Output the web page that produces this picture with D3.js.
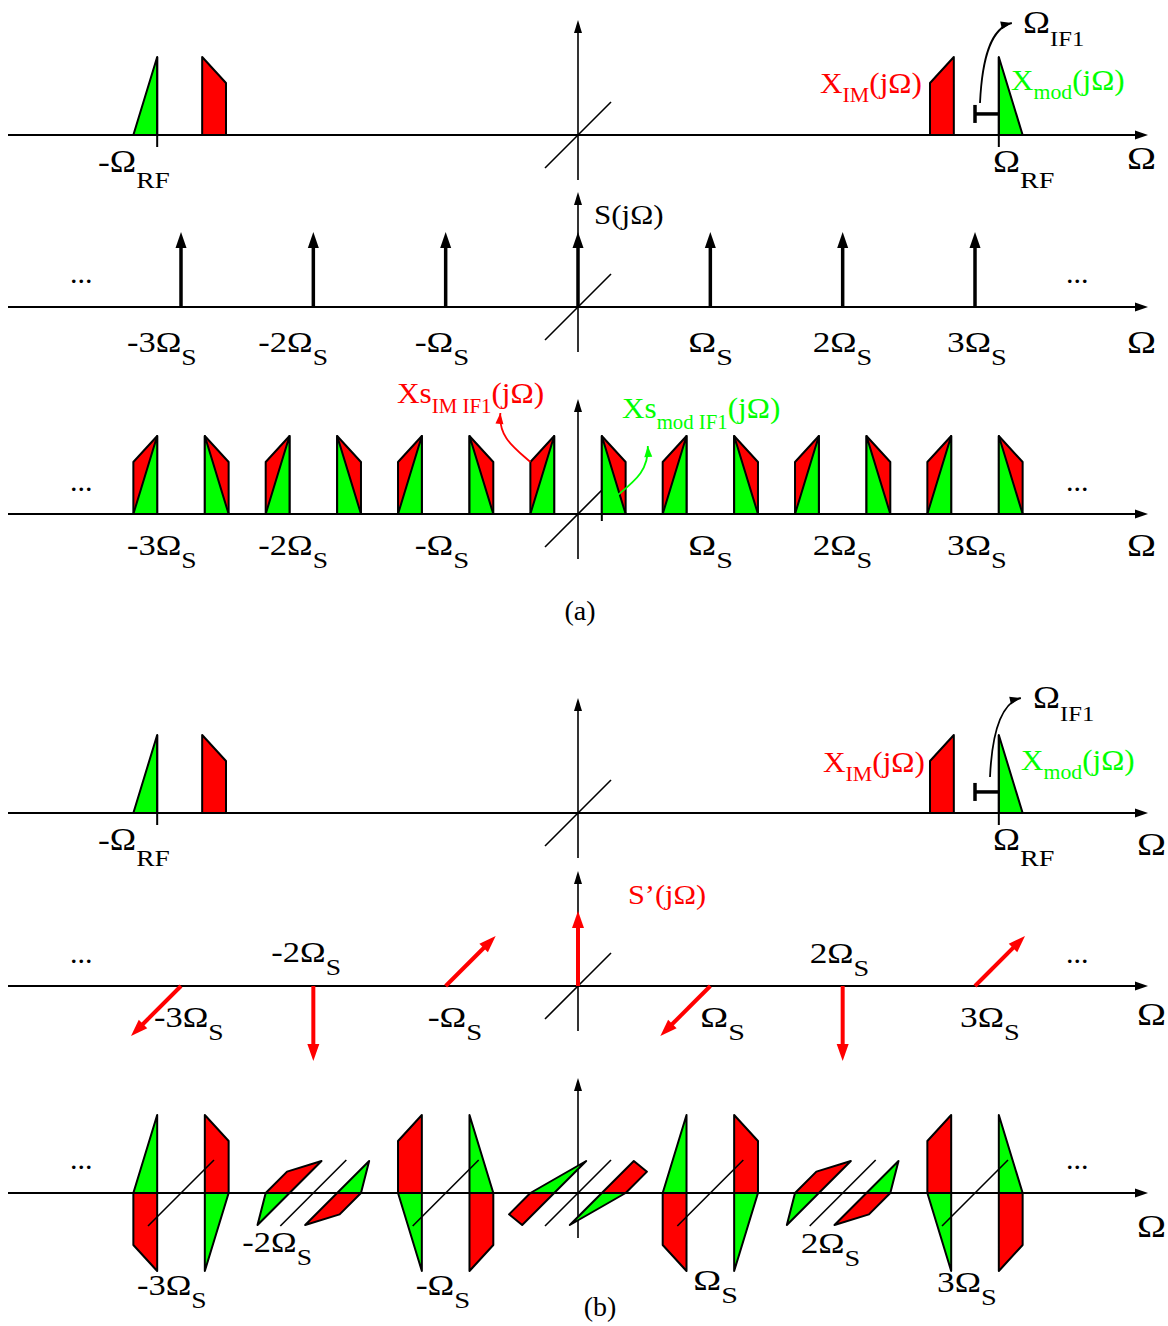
<!DOCTYPE html>
<html>
<head>
<meta charset="utf-8">
<title>Bandpass sampling spectra</title>
<script src="https://cdn.jsdelivr.net/npm/d3@7"></script>
<style>
  body { margin: 0; background: #fff; }
  text { font-family: "Liberation Serif", "Times New Roman", serif; }
</style>
</head>
<body>
<script>
// ---- data (frequencies in units of Ωs) ----
const harmonics = [-3, -2, -1, 0, 1, 2, 3];
const harmonicText = ["-3Ω", "-2Ω", "-Ω", "", "Ω", "2Ω", "3Ω"];
const omegaRF = 3.18;
const bandWidth = 0.18;
const imBandEdges = [-0.52, -0.34];      // image band, relative to Ω_RF
const modProfile = [1, 0];               // |X_mod| at low / high band edge
const imProfile = [0.667, 1];            // |X_IM| at low / high band edge
const bracketLevel = 0.27;
const impulseA = [1, 1, 1, 1, 1, 1, 1];  // S(jΩ)
const impulseBRe = [0, -1, 0, 1, 0, -1, 0];   // S'(jΩ)
const impulseBIm = [-1, 0, 1, 0, -1, 0, 1];
const imageARe = [1, 1, 1, 1, 1, 1, 1];  // phase of aliased bands, (a)
const imageAIm = [0, 0, 0, 0, 0, 0, 0];
const imageBRe = [1, 0, -1, 0, 1, 0, -1]; // phase of aliased bands, (b)
const imageBIm = [0, -1, 0, 1, 0, -1, 0];

const RED = "#ff0000", GREEN = "#00ff00";
const omegaIF = omegaRF - 3;

const svg = d3.select("body").append("svg").attr("width", 1168).attr("height", 1326);

const x = d3.scaleLinear().domain([-3, 3]).range([181, 975]);
const amp = d3.scaleLinear().domain([0, 1]).range([0, 78]);
const depth = d3.scaleLinear().domain([0, 1]).range([0, 32]);   // imaginary axis, drawn at 45deg
const impLen = d3.scaleLinear().domain([0, 1]).range([0, 75]);
const impDepth = d3.scaleLinear().domain([0, 1]).range([0, 50]);

const rows = { a1: 135, a2: 307, a3: 514, b1: 813, b2: 986, b3: 1193 };

function head(g, tx, ty, ang, len, wid, col) {
  const a = ang * Math.PI / 180, c = Math.cos(a), s = Math.sin(a);
  const bx = tx - len * c, by = ty - len * s;
  const px = -s * wid / 2, py = c * wid / 2;
  g.append("path")
    .attr("d", `M${tx},${ty}L${bx + px},${by + py}L${bx - px},${by - py}Z`)
    .attr("fill", col);
}

function arrow(g, x1, y1, x2, y2, col, sw, len, wid) {
  const a = Math.atan2(y2 - y1, x2 - x1);
  g.append("line")
    .attr("x1", x1).attr("y1", y1)
    .attr("x2", x2 - Math.cos(a) * len * 0.6).attr("y2", y2 - Math.sin(a) * len * 0.6)
    .attr("stroke", col).attr("stroke-width", sw);
  head(g, x2, y2, a * 180 / Math.PI, len, wid, col);
}

function curvedArrow(g, p, col) {
  const path = d3.path();
  path.moveTo(p[0][0], p[0][1]);
  path.bezierCurveTo(p[1][0], p[1][1], p[2][0], p[2][1], p[3][0], p[3][1]);
  g.append("path").attr("d", path.toString())
    .attr("fill", "none").attr("stroke", col).attr("stroke-width", 1.8);
  const ang = Math.atan2(p[3][1] - p[2][1], p[3][0] - p[2][0]) * 180 / Math.PI;
  head(g, p[3][0], p[3][1], ang, 11, 8, col);
}

function label(g, px, py, segs, o = {}) {
  const size = o.size || 30, subSize = o.subSize || 24, subDy = o.subDy || 13;
  const t = g.append("text").attr("x", px).attr("y", py)
    .attr("font-size", size).attr("fill", o.color || "#000")
    .attr("text-anchor", o.anchor || "start")
    .style("white-space", "pre");
  let cur = 0;
  segs.forEach(sg => {
    const isSub = typeof sg !== "string";
    const target = isSub ? subDy : 0;
    t.append("tspan").attr("dy", target - cur)
      .attr("font-size", isSub ? subSize : size)
      .text(isSub ? sg.sub : sg);
    cur = target;
  });
  // the original's Ω glyph is wider than the Times one
  const n = (t.text().match(/Ω/g) || []).length;
  const extra = o.omegaExtra === undefined ? 9 : o.omegaExtra;
  if (n && extra && (o.anchor || "start") === "start") {
    const L = t.node().getComputedTextLength();
    t.attr("textLength", L + extra * n).attr("lengthAdjust", "spacingAndGlyphs");
  }
}

function axes(b, omegaX, omegaDy) {
  const g = svg.append("g");
  g.append("line").attr("x1", 8).attr("y1", b).attr("x2", 1140).attr("y2", b)
    .attr("stroke", "#000").attr("stroke-width", 2);
  head(g, 1148, b, 0, 13, 9, "#000");
  g.append("line").attr("x1", x(0)).attr("y1", b + 45).attr("x2", x(0)).attr("y2", b - 106)
    .attr("stroke", "#000").attr("stroke-width", 1.6);
  head(g, x(0), b - 115, -90, 13, 8, "#000");
  g.append("line").attr("x1", x(0) - 33).attr("y1", b + 33).attr("x2", x(0) + 33).attr("y2", b - 33)
    .attr("stroke", "#000").attr("stroke-width", 1.6);
  label(g, omegaX, b + omegaDy, ["Ω"], { size: 31, omegaExtra: 6 });
  return g;
}

function band(g, lo, hi, prof, re, im, b, col) {
  const pts = [[lo, 0], [lo, prof[0]], [hi, prof[1]], [hi, 0]]
    .map(([f, m]) => [x(f) + depth(m * im), b - amp(m * re) - depth(m * im)]);
  g.append("path").attr("d", d3.line()(pts) + "Z")
    .attr("fill", col).attr("stroke", "#000").attr("stroke-width", 2)
    .attr("stroke-linejoin", "round");
}

const rev = p => [p[1], p[0]];

// received spectrum with image, plus Ω_IF1 bracket
function spectrum(b, lab) {
  const g = axes(b, lab.omegaX, lab.omegaDy);
  const imLo = omegaRF + imBandEdges[0], imHi = omegaRF + imBandEdges[1];
  band(g, imLo, imHi, imProfile, 1, 0, b, RED);
  band(g, -imHi, -imLo, rev(imProfile), 1, 0, b, RED);
  band(g, omegaRF, omegaRF + bandWidth, modProfile, 1, 0, b, GREEN);
  band(g, -omegaRF - bandWidth, -omegaRF, rev(modProfile), 1, 0, b, GREEN);
  [omegaRF, -omegaRF].forEach(f => {
    g.append("line").attr("x1", x(f)).attr("x2", x(f))
      .attr("y1", b - amp(1)).attr("y2", b + 12)
      .attr("stroke", "#000").attr("stroke-width", 2);
  });
  const yb = b - amp(bracketLevel);
  g.append("line").attr("x1", x(3)).attr("x2", x(omegaRF)).attr("y1", yb).attr("y2", yb)
    .attr("stroke", "#000").attr("stroke-width", 3.5);
  g.append("line").attr("x1", x(3)).attr("x2", x(3)).attr("y1", yb - 9).attr("y2", yb + 9)
    .attr("stroke", "#000").attr("stroke-width", 3.5);
  const s = [x(3) + lab.arcDx, b - lab.arcDy];
  const e = [x(omegaRF) + lab.endDx, b - lab.endDy];
  curvedArrow(g, [s, [s[0] + 2, s[1] - 43], [s[0] + 10, e[1] + 5], e], "#000");

  label(g, 98, b + lab.rfDy, ["-Ω", { sub: "RF" }], { size: 31, subDy: 16 });
  label(g, 993, b + lab.rfDy, ["Ω", { sub: "RF" }], { size: 31, subDy: 16 });
  label(g, lab.imX, b - lab.imDy, ["X", { sub: "IM" }, "(jΩ)"],
    { size: 30, subSize: 21, subDy: 9, color: RED, omegaExtra: 4 });
  label(g, lab.modX, b - lab.modDy, ["X", { sub: "mod" }, "(jΩ)"],
    { size: 30, subSize: 21, subDy: 9, color: GREEN, omegaExtra: 4 });
  label(g, lab.ifX, b - lab.ifDy, ["Ω", { sub: "IF1" }], { size: 31, subSize: 21, subDy: 13 });
}

// aliased bands around every harmonic of Ωs
function aliased(g, b, pRe, pIm, counter) {
  harmonics.forEach((k, i) => {
    const r = pRe[i], m = pIm[i];
    const lLo = k - omegaIF - bandWidth, lHi = k - omegaIF;
    const rLo = k + omegaIF, rHi = k + omegaIF + bandWidth;
    band(g, lLo, lHi, imProfile, counter * r, counter * m, b, RED);
    band(g, lLo, lHi, rev(modProfile), r, m, b, GREEN);
    band(g, rLo, rHi, rev(imProfile), r, m, b, RED);
    band(g, rLo, rHi, modProfile, counter * r, counter * m, b, GREEN);
  });
}

function tickLabels(g, b, dxs, dys) {
  harmonics.forEach((k, i) => {
    if (!harmonicText[i]) return;
    label(g, x(k) + dxs[i], b + dys[i], [harmonicText[i], { sub: "S" }]);
  });
}

function dots(g, b, dy) {
  label(g, 70, b + dy, ["..."], { size: 30 });
  label(g, 1066, b + dy, ["..."], { size: 30 });
}

// ---------- (a) ----------
spectrum(rows.a1, { omegaX: 1127, omegaDy: 34, rfDy: 37, imX: 820, imDy: 42, modX: 1011, modDy: 45,
  ifX: 1023, ifDy: 102, arcDx: 5, arcDy: 32, endDx: 13, endDy: 112 });

{
  const b = rows.a2;
  const g = axes(b, 1127, 46);
  harmonics.forEach((k, i) => arrow(g, x(k), b, x(k), b - impLen(impulseA[i]), "#000", 3.5, 16, 11));
  tickLabels(g, b, [-54, -55, -31, 0, -22, -30, -28], [45, 45, 45, 0, 45, 45, 45]);
  label(g, 594, b - 83, ["S(jΩ)"], { size: 27 });
  dots(g, b, -24);
}

{
  const b = rows.a3;
  const g = axes(b, 1127, 42);
  aliased(g, b, imageARe, imageAIm, 1);
  g.append("line").attr("x1", x(omegaIF)).attr("x2", x(omegaIF)).attr("y1", b).attr("y2", b + 7)
    .attr("stroke", "#000").attr("stroke-width", 2);
  tickLabels(g, b, [-54, -55, -31, 0, -22, -30, -28], [41, 41, 41, 0, 41, 41, 41]);
  dots(g, b, -23);
  // annotation arrows
  const rs = [x(-omegaIF - bandWidth), b - amp(imProfile[0])];
  curvedArrow(g, [rs, [rs[0] - 17, rs[1] - 15], [rs[0] - 32, rs[1] - 25], [rs[0] - 30, rs[1] - 49]], RED);
  const gs = [x(omegaIF) + 16, b - 19];
  curvedArrow(g, [gs, [gs[0] + 18, gs[1] - 15], [gs[0] + 31, gs[1] - 25], [gs[0] + 30, gs[1] - 49]], GREEN);
  label(g, 397, b - 111, ["Xs", { sub: "IM IF1" }, "(jΩ)"], { size: 30, subSize: 20, subDy: 10, color: RED, omegaExtra: 6 });
  label(g, 622, b - 96, ["Xs", { sub: "mod IF1" }, "(jΩ)"], { size: 30, subSize: 20, subDy: 11, color: GREEN, omegaExtra: 6 });
  label(g, 580, 620, ["(a)"], { size: 28, anchor: "middle" });
}

// ---------- (b) ----------
spectrum(rows.b1, { omegaX: 1137, omegaDy: 42, rfDy: 37, imX: 823, imDy: 41, modX: 1021, modDy: 43,
  ifX: 1033, ifDy: 105, arcDx: 15, arcDy: 36, endDx: 22, endDy: 115 });

{
  const b = rows.b2;
  const g = axes(b, 1137, 39);
  harmonics.forEach((k, i) => {
    const re = impulseBRe[i], im = impulseBIm[i];
    arrow(g, x(k), b, x(k) + impDepth(im), b - impLen(re) - impDepth(im), RED, 4, 17, 12);
  });
  tickLabels(g, b, [-27, -42, -18, 0, -10, -33, -15], [41, -24, 41, 0, 41, -23, 41]);
  label(g, 628, b - 82, ["S’(jΩ)"], { size: 28, color: RED, omegaExtra: 6 });
  dots(g, b, -23);
}

{
  const b = rows.b3;
  const g = axes(b, 1137, 44);
  aliased(g, b, imageBRe, imageBIm, -1);
  harmonics.forEach(k => {
    if (k === 0) return;
    g.append("line").attr("x1", x(k) - 33).attr("y1", b + 33).attr("x2", x(k) + 33).attr("y2", b - 33)
      .attr("stroke", "#000").attr("stroke-width", 1.6);
  });
  tickLabels(g, b, [-44, -71, -30, 0, -17, -42, -38], [102, 59, 102, 0, 97, 60, 99]);
  dots(g, b, -24);
  label(g, 600, 1316, ["(b)"], { size: 28, anchor: "middle" });
}
</script>
</body>
</html>
